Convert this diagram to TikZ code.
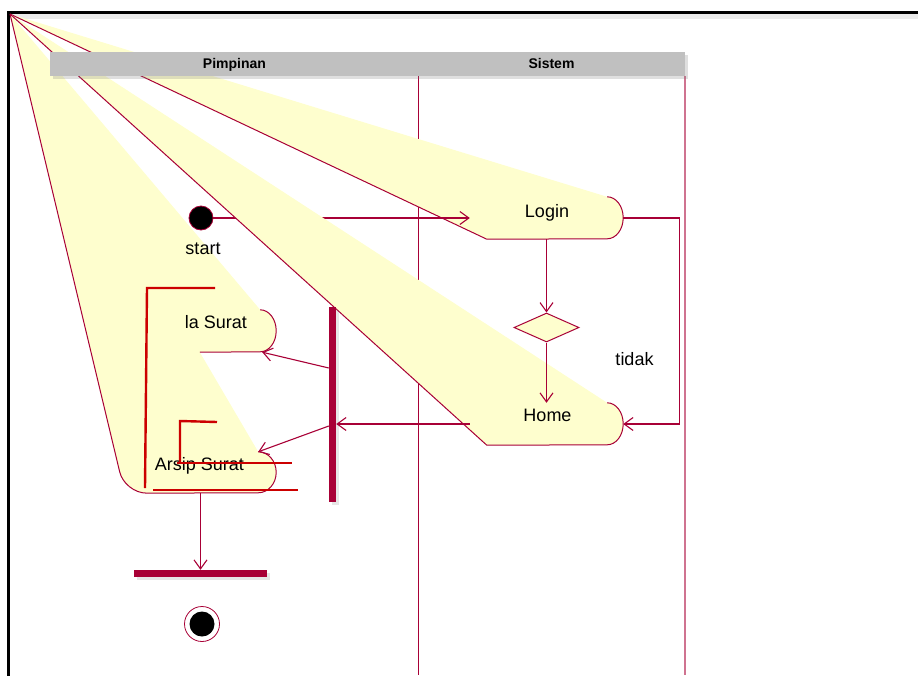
\documentclass[tikz,border=0pt]{standalone}
\usepackage{fontspec}
\setmainfont{Liberation Sans}
\usepackage{tikz}
\usetikzlibrary{
    calc,positioning,arrows.meta,shapes.geometric,shadows
}
\definecolor{umlRed}{HTML}{A80036}
\definecolor{actYellow}{HTML}{FEFECE}
\definecolor{partRed}{HTML}{CC0000}
\definecolor{headGrey}{HTML}{C0C0C0}
\tikzset{
    box/.style={rectangle, inner sep=0pt, minimum height=42pt},
    act/.style={fill=actYellow},
    act_line/.style={draw=umlRed, line width=1pt},
    line/.style={-{Straight Barb[length=9pt,width=13pt]}, draw=umlRed, line width=1.1pt},
    lane/.style={draw=umlRed, line width=0.9pt},
    frame/.style={draw=black, line width=3pt},
    header/.style={rectangle, fill=headGrey, inner sep=0pt, drop shadow={shadow xshift=3pt, shadow yshift=-3pt, opacity=0.25}},
    head_txt/.style={font=\fontsize{14}{16}\selectfont\bfseries, inner sep=0pt, anchor=base},
    txt/.style={font=\fontsize{18}{20}\selectfont, inner sep=0pt, anchor=base},
    start_node/.style={circle, fill=black, draw=umlRed, line width=0.8pt, minimum size=24pt, inner sep=0pt},
    final_node/.style={circle, fill=white, draw=umlRed, line width=0.8pt, minimum size=35pt, inner sep=0pt,
        path picture={\fill[black] (path picture bounding box.center) circle[radius=12.5pt];}},
    decision/.style={diamond, draw=umlRed, fill=actYellow, line width=1pt, minimum width=65pt, minimum height=29pt, inner sep=0pt},
    bar/.style={rectangle, fill=umlRed, inner sep=0pt, drop shadow={shadow xshift=3pt, shadow yshift=-3pt, opacity=0.2}},
    part_line/.style={draw=partRed, line width=2.4pt},
}
\begin{document}
\begin{tikzpicture}[x=1pt, y=-1pt]
    \useasboundingbox (0,0) rectangle (918,675);
    \clip (0,0) rectangle (918,675);

    % Frame and lanes
    \fill[black!8] (10,13) rectangle (918,19);
    \draw[frame] (8,12) rectangle (940,700);
    \draw[lane] (418,76) -- (418,675);
    \draw[lane, draw=umlRed!55, line width=1.6pt] (685,76) -- (685,675);

    % Outline boxes of the activities
    \coordinate (corner) at (10,14);
    \node[box, minimum width=153pt] (login) at (546.5,218) {};
    \node[box, minimum width=153pt] (home) at (546.5,424) {};
    \node[box, minimum width=76pt] (kelola) at (238,331) {};
    \node[box, minimum width=151pt, minimum height=41pt] (arsip) at (200.5,472.5) {};
    \node[start_node] (start) at (201,218) {};

    % Left activity (Kelola Surat + Arsip Surat)
    \fill[act] (corner) -- ([xshift=-16pt]kelola.north east)
        arc[start angle=90, end angle=-90, x radius=16pt, y radius=21pt]
        -- (kelola.south west) -- ([xshift=-18pt]arsip.north east)
        arc[start angle=90, end angle=-90, x radius=18pt, y radius=20.5pt]
        [rounded corners=22pt] -- (arsip.south west) -- (corner);
    \draw[act_line] ([xshift=-16pt]kelola.north east)
        arc[start angle=90, end angle=-90, x radius=16pt, y radius=21pt] -- (kelola.south west);
    \draw[act_line] ([xshift=-18pt]arsip.north east)
        arc[start angle=90, end angle=-90, x radius=18pt, y radius=20.5pt]
        [rounded corners=22pt] -- (arsip.south west) -- (corner);

    % Login
    \fill[act] (corner) -- ([xshift=-16pt]login.north east)
        arc[start angle=90, end angle=-90, x radius=16pt, y radius=21pt]
        -- ([xshift=17pt]login.south west) -- (corner);
    \draw[act_line] ([xshift=-16pt]login.north east)
        arc[start angle=90, end angle=-90, x radius=16pt, y radius=21pt]
        -- ([xshift=17pt]login.south west) -- (corner);
    \draw[line] (start) -- (login);

    % Home
    \fill[act] (corner) -- ([xshift=-16pt]home.north east)
        arc[start angle=90, end angle=-90, x radius=16pt, y radius=21pt]
        -- ([xshift=17pt]home.south west) -- (corner);
    \draw[act_line] ([xshift=-16pt]home.north east)
        arc[start angle=90, end angle=-90, x radius=16pt, y radius=21pt]
        -- ([xshift=17pt]home.south west) -- (corner);

    % Lane header
    \node[header, minimum width=635pt, minimum height=24pt] (head) at (367.5,64) {};
    \node[head_txt] (pimpinan) at (234.5,68.5) {Pimpinan};
    \node[head_txt] (sistem) at (551.5,68.5) {Sistem};

    % Other nodes
    \node[decision] (dec) at (546.5,327.5) {};
    \node[bar, minimum width=7pt, minimum height=195pt] (fork) at (332.5,404.5) {};
    \node[bar, minimum width=133pt, minimum height=7pt] (join) at (200.5,573.5) {};
    \node[final_node] (final) at (202,624) {};

    % Texts
    \node[txt] (startText) at (203,254) {start};
    \node[txt] (loginText) at (547,217) {Login};
    \node[txt] (homeText) at (547.5,421) {Home};
    \node[txt] (kelolaText) at (216,328) {la Surat};
    \node[txt] (arsipText) at (199.5,470) {Arsip Surat};
    \node[txt] (tidak) at (634.5,365) {tidak};

    % Lines
    \draw[line] (login.south) -- (dec.north);
    \draw[line] (dec.south) -- (home.north);
    \draw[line] (login.east) -- ++(56,0) |- (home.east);
    \draw[line] (home.west) -- (home.west -| fork.east);
    \draw[line] ([yshift=36.5pt]fork.west) -- ([xshift=-14pt]kelola.south east);
    \draw[line] ([yshift=-21.5pt]fork.west) -- ([xshift=-18pt]arsip.north east);
    \draw[line] (arsip.south) -- (join.north);

    % Partition brackets
    \draw[part_line] (215,288) -- (147,288) -- (145,488);
    \draw[part_line] (217,422) -- (180,421) -- (180,462);
    \draw[part_line] (177,463) -- (292,463);
    \draw[part_line] (153,490) -- (298,490);
\end{tikzpicture}
\end{document}
